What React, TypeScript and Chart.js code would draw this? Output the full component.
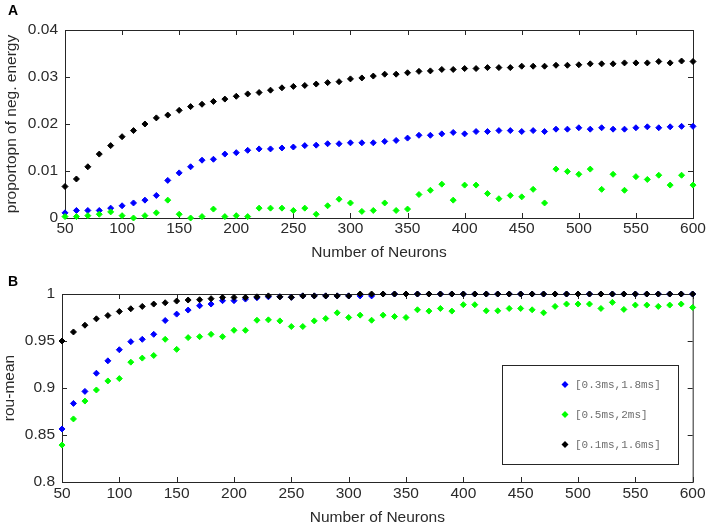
import React, { useEffect, useRef } from 'react';
import { Chart, registerables } from 'chart.js';

Chart.register(...registerables);

// ---------------- data ----------------
const NEURONS = [
  50, 60, 70, 80, 90, 100, 110, 120, 130, 140, 150, 160, 170, 180, 190, 200, 210, 220, 230, 240,
  250, 260, 270, 280, 290, 300, 310, 320, 330, 340, 350, 360, 370, 380, 390, 400, 410, 420, 430, 440,
  450, 460, 470, 480, 490, 500, 510, 520, 530, 540, 550, 560, 570, 580, 590, 600,
];

const SERIES_LABELS = ['[0.3ms,1.8ms]', '[0.5ms,2ms]', '[0.1ms,1.6ms]'];

// Panel A: proportion of negative energy
const A_BLUE = [
  0.0011, 0.0016, 0.0016, 0.0016, 0.0021, 0.0026, 0.0032, 0.0038, 0.0048, 0.0080, 0.0096, 0.0109, 0.0123, 0.0125, 0.0136, 0.0139, 0.0144, 0.0147, 0.0147, 0.0149,
  0.0151, 0.0154, 0.0155, 0.0158, 0.0158, 0.0160, 0.0160, 0.0160, 0.0163, 0.0165, 0.0170, 0.0176, 0.0176, 0.0179, 0.0182, 0.0179, 0.0184, 0.0184, 0.0186, 0.0186,
  0.0184, 0.0186, 0.0184, 0.0189, 0.0189, 0.0192, 0.0189, 0.0192, 0.0189, 0.0189, 0.0192, 0.0194, 0.0192, 0.0194, 0.0195, 0.0195,
];
const A_GREEN = [
  0.0003, 0.0003, 0.0005, 0.0008, 0.0013, 0.0005, 0.0000, 0.0005, 0.0011, 0.0038, 0.0008, 0.0000, 0.0003, 0.0019, 0.0003, 0.0005, 0.0003, 0.0021, 0.0021, 0.0021,
  0.0016, 0.0021, 0.0008, 0.0026, 0.0040, 0.0032, 0.0014, 0.0016, 0.0032, 0.0016, 0.0019, 0.0050, 0.0059, 0.0072, 0.0038, 0.0070, 0.0070, 0.0052, 0.0041, 0.0048,
  0.0045, 0.0061, 0.0032, 0.0104, 0.0099, 0.0093, 0.0104, 0.0061, 0.0093, 0.0059, 0.0088, 0.0082, 0.0091, 0.0070, 0.0091, 0.0070,
];
const A_BLACK = [
  0.0067, 0.0083, 0.0109, 0.0136, 0.0154, 0.0173, 0.0186, 0.0200, 0.0213, 0.0219, 0.0229, 0.0237, 0.0242, 0.0248, 0.0253, 0.0259, 0.0264, 0.0267, 0.0272, 0.0277,
  0.0280, 0.0282, 0.0285, 0.0288, 0.0290, 0.0296, 0.0298, 0.0302, 0.0306, 0.0306, 0.0309, 0.0312, 0.0313, 0.0316, 0.0316, 0.0318, 0.0318, 0.0320, 0.0320, 0.0320,
  0.0323, 0.0323, 0.0323, 0.0325, 0.0325, 0.0326, 0.0328, 0.0328, 0.0328, 0.0330, 0.0330, 0.0330, 0.0333, 0.0330, 0.0334, 0.0333,
];

// Panel B: rou-mean
const B_BLUE = [
  0.8564, 0.8836, 0.8964, 0.9157, 0.9289, 0.9407, 0.9493, 0.9518, 0.9571, 0.9718, 0.9786, 0.9829, 0.9875, 0.9893, 0.9929, 0.9929, 0.9946, 0.9960, 0.9970, 0.9970,
  0.9965, 0.9980, 0.9980, 0.9980, 0.9980, 0.9980, 0.9980, 0.9980, 1.0, 1.0, 1.0, 1.0, 1.0, 1.0, 1.0, 1.0, 1.0, 1.0, 1.0, 1.0,
  1.0, 1.0, 1.0, 1.0, 1.0, 1.0, 1.0, 1.0, 1.0, 1.0, 1.0, 1.0, 1.0, 1.0, 1.0, 1.0,
];
const B_GREEN = [
  0.8393, 0.8671, 0.8861, 0.8979, 0.9075, 0.9100, 0.9275, 0.9318, 0.9346, 0.9518, 0.9411, 0.9536, 0.9546, 0.9571, 0.9546, 0.9614, 0.9614, 0.9721, 0.9725, 0.9714,
  0.9654, 0.9654, 0.9714, 0.9739, 0.9800, 0.9750, 0.9775, 0.9721, 0.9775, 0.9760, 0.9750, 0.9832, 0.9818, 0.9846, 0.9818, 0.9886, 0.9886, 0.9821, 0.9821, 0.9846,
  0.9846, 0.9832, 0.9800, 0.9868, 0.9893, 0.9893, 0.9893, 0.9846, 0.9911, 0.9836, 0.9882, 0.9882, 0.9868, 0.9882, 0.9893, 0.9857,
];
const B_BLACK = [
  0.9500, 0.9596, 0.9668, 0.9736, 0.9771, 0.9814, 0.9843, 0.9868, 0.9893, 0.9907, 0.9925, 0.9936, 0.9939, 0.9950, 0.9964, 0.9964, 0.9964, 0.9970, 0.9980, 0.9970,
  0.9965, 0.9980, 0.9980, 0.9980, 0.9980, 0.9980, 1.0, 1.0, 1.0, 1.0, 1.0, 1.0, 1.0, 1.0, 1.0, 1.0, 1.0, 1.0, 1.0, 1.0,
  1.0, 1.0, 1.0, 1.0, 1.0, 1.0, 1.0, 1.0, 1.0, 1.0, 1.0, 1.0, 1.0, 1.0, 1.0, 1.0,
];

const X_TICKS = [50, 100, 150, 200, 250, 300, 350, 400, 450, 500, 550, 600];
const A_Y_TICKS = [0, 0.01, 0.02, 0.03, 0.04];
const B_Y_TICKS = [0.8, 0.85, 0.9, 0.95, 1];

// ---------------- styling ----------------
const COLORS = ['#0000ff', '#00ff00', '#000000'];
const TEXT = '#2a2a2a';
const FONT = "'Liberation Sans', Arial, sans-serif";

const fmt = (v: number) => String(parseFloat(Number(v).toFixed(3)));

const framePlugin = {
  id: 'frame',
  beforeDatasetsDraw(chart: any) {
    const { ctx, chartArea } = chart;
    const { left, right, top, bottom } = chartArea;
    const x = chart.scales.x;
    const y = chart.scales.y;
    const L = 5;
    ctx.save();
    ctx.strokeStyle = '#262626';
    ctx.lineWidth = 1;
    ctx.strokeRect(left + 0.5, top + 0.5, right - left, bottom - top);
    ctx.beginPath();
    x.ticks.forEach((t: any) => {
      const px = Math.round(x.getPixelForValue(t.value)) + 0.5;
      ctx.moveTo(px, bottom);
      ctx.lineTo(px, bottom - L);
      ctx.moveTo(px, top);
      ctx.lineTo(px, top + L);
    });
    y.ticks.forEach((t: any) => {
      const py = Math.round(y.getPixelForValue(t.value)) + 0.5;
      ctx.moveTo(left, py);
      ctx.lineTo(left + L, py);
      ctx.moveTo(right, py);
      ctx.lineTo(right - L, py);
    });
    ctx.stroke();
    ctx.restore();
  },
};

const panelLabelPlugin = {
  id: 'panelLabel',
  afterDraw(chart: any) {
    const o = chart.options.plugins.panelLabel;
    if (!o || !o.text) return;
    const ctx = chart.ctx;
    ctx.save();
    ctx.fillStyle = '#000';
    ctx.font = `bold 14px ${FONT}`;
    ctx.textBaseline = 'alphabetic';
    ctx.textAlign = 'left';
    ctx.fillText(o.text, o.x, o.y);
    ctx.restore();
  },
};

const boxLegendPlugin = {
  id: 'boxLegend',
  afterDatasetsDraw(chart: any) {
    const o = chart.options.plugins.boxLegend;
    if (!o || !o.show) return;
    const ctx = chart.ctx;
    const { bx, by, bw, bh } = o;
    ctx.save();
    ctx.fillStyle = '#ffffff';
    ctx.fillRect(bx, by, bw, bh);
    ctx.strokeStyle = '#262626';
    ctx.lineWidth = 1;
    ctx.strokeRect(bx + 0.5, by + 0.5, bw, bh);
    chart.data.datasets.forEach((ds: any, i: number) => {
      const cy = by + 19.5 + i * 30;
      const mx = bx + 63;
      const r = 3;
      ctx.fillStyle = ds.pointBackgroundColor;
      ctx.beginPath();
      ctx.moveTo(mx - r - 0.5, cy);
      ctx.lineTo(mx, cy - r - 0.5);
      ctx.lineTo(mx + r + 0.5, cy);
      ctx.lineTo(mx, cy + r + 0.5);
      ctx.closePath();
      ctx.fill();
      ctx.fillStyle = '#6e6e6e';
      ctx.font = "11px 'Liberation Mono', 'DejaVu Sans Mono', monospace";
      ctx.textBaseline = 'middle';
      ctx.textAlign = 'left';
      ctx.fillText(ds.label, bx + 73, cy + 0.5);
    });
    ctx.restore();
  },
};

function makeDataset(label: string, values: number[], color: string, order: number) {
  return {
    label,
    data: NEURONS.map((n, i) => ({ x: n, y: values[i] })),
    showLine: false,
    pointStyle: 'rectRot',
    pointRadius: 3,
    pointBorderWidth: 1,
    pointBackgroundColor: color,
    pointBorderColor: color,
    backgroundColor: color,
    borderColor: color,
    clip: false,
    order,
  };
}

interface PanelOpts {
  series: number[][];
  yTicks: number[];
  yTitle: string;
  padTop: number;
  yAxisWidth: number;
  xAxisHeight: number;
  xTickPad: number;
  yTitlePad: number;
  letter: string;
  letterY: number;
  legend: boolean;
}

function makeConfig(p: PanelOpts): any {
  const orders = [2, 1, 0];
  return {
    type: 'scatter',
    data: {
      datasets: p.series.map((s, i) => makeDataset(SERIES_LABELS[i], s, COLORS[i], orders[i])),
    },
    options: {
      animation: false,
      responsive: false,
      maintainAspectRatio: false,
      layout: { padding: { top: p.padTop, right: 15, left: 0, bottom: 0 } },
      plugins: {
        legend: { display: false },
        tooltip: { enabled: false },
        panelLabel: { text: p.letter, x: 8, y: p.letterY },
        boxLegend: { show: p.legend, bx: 502, by: 103, bw: 176, bh: 99 },
      },
      scales: {
        x: {
          type: 'linear',
          min: X_TICKS[0],
          max: X_TICKS[X_TICKS.length - 1],
          afterBuildTicks: (s: any) => {
            s.ticks = X_TICKS.map((v) => ({ value: v }));
          },
          afterFit: (s: any) => {
            s.height = p.xAxisHeight;
          },
          grid: { display: false, drawTicks: false },
          border: { display: false },
          ticks: {
            padding: p.xTickPad,
            color: TEXT,
            font: { family: FONT, size: 15.5 },
            maxRotation: 0,
            autoSkip: false,
            callback: (v: any) => fmt(v),
          },
          title: {
            display: true,
            text: 'Number of Neurons',
            color: TEXT,
            font: { family: FONT, size: 15.5 },
            padding: { top: 0, bottom: 0 },
          },
        },
        y: {
          type: 'linear',
          min: p.yTicks[0],
          max: p.yTicks[p.yTicks.length - 1],
          afterBuildTicks: (s: any) => {
            s.ticks = p.yTicks.map((v) => ({ value: v }));
          },
          afterFit: (s: any) => {
            s.width = p.yAxisWidth;
          },
          grid: { display: false, drawTicks: false },
          border: { display: false },
          ticks: {
            padding: 7,
            color: TEXT,
            font: { family: FONT, size: 15.5 },
            autoSkip: false,
            callback: (v: any) => fmt(v),
          },
          title: {
            display: true,
            text: p.yTitle,
            color: TEXT,
            font: { family: FONT, size: 15.5 },
            padding: { top: p.yTitlePad, bottom: 0 },
          },
        },
      },
    },
    plugins: [framePlugin, panelLabelPlugin, boxLegendPlugin],
  };
}

export default function App() {
  const refA = useRef<HTMLCanvasElement | null>(null);
  const refB = useRef<HTMLCanvasElement | null>(null);

  useEffect(() => {
    if (!refA.current || !refB.current) return;
    const chartA = new Chart(
      refA.current,
      makeConfig({
        series: [A_BLUE, A_GREEN, A_BLACK],
        yTicks: A_Y_TICKS,
        yTitle: 'proportopn of neg. energy',
        padTop: 30,
        yAxisWidth: 65,
        xAxisHeight: 44,
        xTickPad: 1.5,
        yTitlePad: 2.4,
        letter: 'A',
        letterY: 15,
        legend: false,
      })
    );
    const chartB = new Chart(
      refB.current,
      makeConfig({
        series: [B_BLUE, B_GREEN, B_BLACK],
        yTicks: B_Y_TICKS,
        yTitle: 'rou-mean',
        padTop: 32,
        yAxisWidth: 62,
        xAxisHeight: 45,
        xTickPad: 2.4,
        yTitlePad: 0.7,
        letter: 'B',
        letterY: 24,
        legend: true,
      })
    );
    return () => {
      chartA.destroy();
      chartB.destroy();
    };
  }, []);

  return (
    <div
      style={{
        position: 'absolute',
        left: 0,
        top: 0,
        width: 708,
        height: 527,
        background: '#ffffff',
        overflow: 'hidden',
      }}
    >
      <canvas
        ref={refA}
        width={708}
        height={262}
        style={{ position: 'absolute', left: 0, top: 0, width: 708, height: 262 }}
      />
      <canvas
        ref={refB}
        width={708}
        height={265}
        style={{ position: 'absolute', left: 0, top: 262, width: 708, height: 265 }}
      />
    </div>
  );
}
